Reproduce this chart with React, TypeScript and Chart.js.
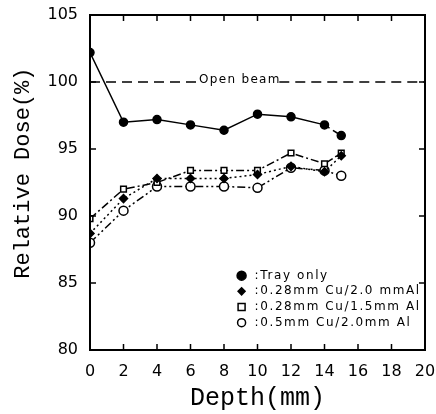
import React, { useEffect, useRef } from 'react';
import { Chart, registerables } from 'chart.js';

Chart.register(...registerables);

const depths = [0, 2, 4, 6, 8, 10, 12, 14, 15];
const trayOnly = [102.2, 97.0, 97.2, 96.8, 96.4, 97.6, 97.4, 96.8, 96.0];
const cu028Al20 = [88.7, 91.3, 92.8, 92.8, 92.8, 93.1, 93.7, 93.3, 94.5];
const cu028Al15 = [89.8, 92.0, 92.5, 93.4, 93.4, 93.4, 94.7, 93.9, 94.7];
const cu05Al20 = [88.0, 90.4, 92.2, 92.2, 92.2, 92.1, 93.6, 93.4, 93.0];
const seriesLabels = [':Tray only', ':0.28mm Cu/2.0 mmAl', ':0.28mm Cu/1.5mm Al', ':0.5mm Cu/2.0mm Al'];
const xTickValues = [0, 2, 4, 6, 8, 10, 12, 14, 16, 18, 20];
const yTickValues = [80, 85, 90, 95, 100, 105];
const openBeamLevel = 100;
const openBeamLabel = 'Open beam';
const openBeamGap = [6.6, 11.3];
const xTitle = 'Depth(mm)';
const yTitle = 'Relative Dose(%)';
const yTitleCenterValue = 93.2;

const toPts = (ys: number[]) => depths.map((x, i) => ({ x, y: ys[i] }));

function drawMarker(ctx: CanvasRenderingContext2D, style: string, x: number, y: number, r: number, filled: boolean) {
  ctx.save();
  ctx.beginPath();
  if (style === 'circle') ctx.arc(x, y, r, 0, Math.PI * 2);
  else if (style === 'rect') ctx.rect(x - r, y - r, 2 * r, 2 * r);
  else if (style === 'rectRot') {
    ctx.moveTo(x, y - r); ctx.lineTo(x + r, y); ctx.lineTo(x, y + r); ctx.lineTo(x - r, y); ctx.closePath();
  }
  ctx.fillStyle = filled ? '#000' : '#fff';
  ctx.fill();
  ctx.lineWidth = 1.5;
  ctx.strokeStyle = '#000';
  ctx.stroke();
  ctx.restore();
}

const markerDefs = [
  { style: 'circle', r: 4.5, filled: true },
  { style: 'rectRot', r: 3.5, filled: true },
  { style: 'rect', r: 3.5, filled: false },
  { style: 'circle', r: 4, filled: false },
];

const decorPlugin = {
  id: 'decor',
  afterDraw(chart: any) {
    const { ctx, chartArea: a, scales } = chart;
    const xs = scales.x, ys = scales.y;
    ctx.save();
    ctx.strokeStyle = '#000';
    ctx.lineWidth = 2;
    ctx.strokeRect(a.left, a.top, a.right - a.left, a.bottom - a.top);
    ctx.lineWidth = 1.5;
    ctx.beginPath();
    xTickValues.forEach((v) => {
      const px = xs.getPixelForValue(v);
      ctx.moveTo(px, a.bottom); ctx.lineTo(px, a.bottom - 6);
      ctx.moveTo(px, a.top); ctx.lineTo(px, a.top + 6);
    });
    yTickValues.forEach((v) => {
      const py = ys.getPixelForValue(v);
      ctx.moveTo(a.left, py); ctx.lineTo(a.left + 6, py);
      ctx.moveTo(a.right, py); ctx.lineTo(a.right - 6, py);
    });
    ctx.stroke();

    // Y axis title
    ctx.save();
    ctx.translate(23, ys.getPixelForValue(yTitleCenterValue));
    ctx.rotate(-Math.PI / 2);
    ctx.fillStyle = '#000';
    ctx.font = '22px "Liberation Mono"';
    ctx.textAlign = 'center';
    ctx.textBaseline = 'middle';
    ctx.fillText(yTitle, 0, 0);
    ctx.restore();

    // Open beam label
    const lx = (xs.getPixelForValue(openBeamGap[0]) + xs.getPixelForValue(openBeamGap[1])) / 2;
    const ly = ys.getPixelForValue(openBeamLevel);
    ctx.fillStyle = '#000';
    ctx.font = '12px "DejaVu Sans"';
    (ctx as any).letterSpacing = '1.3px';
    ctx.textAlign = 'center';
    ctx.textBaseline = 'alphabetic';
    ctx.fillText(openBeamLabel, lx, ly + 1);

    // legend
    ctx.font = '12px "DejaVu Sans"';
    (ctx as any).letterSpacing = '1.6px';
    ctx.textAlign = 'left';
    ctx.textBaseline = 'middle';
    const mx = xs.getPixelForValue(9.05);
    const ty0 = ys.getPixelForValue(85.55);
    seriesLabels.forEach((lab, i) => {
      const yy = ty0 + i * 15.7;
      const m = markerDefs[i];
      drawMarker(ctx, m.style, mx, yy, m.r, m.filled);
      ctx.fillStyle = '#000';
      ctx.fillText(lab, mx + 13, yy);
    });
    ctx.restore();
  },
};

export default function App() {
  const ref = useRef<HTMLCanvasElement | null>(null);
  useEffect(() => {
    if (!ref.current) return;
    const openBeam = [
      { x: 0, y: openBeamLevel },
      { x: openBeamGap[0], y: openBeamLevel },
      { x: (openBeamGap[0] + openBeamGap[1]) / 2, y: null },
      { x: openBeamGap[1], y: openBeamLevel },
      { x: 20, y: openBeamLevel },
    ];
    const chart = new Chart(ref.current, {
      type: 'scatter',
      data: {
        datasets: [
          {
            label: 'Open beam', data: openBeam as any, showLine: true, spanGaps: false,
            borderColor: '#000', borderWidth: 1.3, borderDash: [10, 6], pointRadius: 0,
          },
          {
            label: seriesLabels[0], data: toPts(trayOnly), showLine: true,
            borderColor: '#000', borderWidth: 1.5, pointStyle: 'circle', pointRadius: 4,
            pointBackgroundColor: '#000', pointBorderColor: '#000',
            segment: { borderDash: (c: any) => (c.p0DataIndex === depths.length - 2 ? [6, 4] : undefined) },
          },
          {
            label: seriesLabels[1], data: toPts(cu028Al20), showLine: true,
            borderColor: '#000', borderWidth: 1.5, borderDash: [2, 3], pointStyle: 'rectRot', pointRadius: 4,
            pointBackgroundColor: '#000', pointBorderColor: '#000',
          },
          {
            label: seriesLabels[2], data: toPts(cu028Al15), showLine: true,
            borderColor: '#000', borderWidth: 1.5, borderDash: [8, 3, 2, 3], pointStyle: 'rect', pointRadius: 4,
            pointBackgroundColor: '#fff', pointBorderColor: '#000', pointBorderWidth: 1.5,
          },
          {
            label: seriesLabels[3], data: toPts(cu05Al20), showLine: true,
            borderColor: '#000', borderWidth: 1.5, borderDash: [8, 3, 2, 3, 2, 3], pointStyle: 'circle', pointRadius: 4.5,
            pointBackgroundColor: '#fff', pointBorderColor: '#000', pointBorderWidth: 1.5,
          },
        ],
      },
      options: {
        animation: false,
        responsive: false,
        layout: { padding: { left: 0, right: 11, top: 15, bottom: 0 } },
        plugins: { legend: { display: false }, tooltip: { enabled: false } },
        scales: {
          x: {
            type: 'linear', min: 0, max: 20,
            grid: { display: false, drawTicks: false },
            border: { display: false },
            ticks: { stepSize: 2, color: '#000', font: { family: 'DejaVu Sans', size: 16 }, padding: 12, maxRotation: 0 },
            title: { display: true, text: xTitle, color: '#000', font: { family: 'Liberation Mono', size: 25 }, padding: { top: 0, bottom: 1 } },
            afterFit: (s: any) => { s.height = 64; s.paddingLeft = 0; s.paddingRight = 0; },
          },
          y: {
            type: 'linear', min: 80, max: 105,
            grid: { display: false, drawTicks: false },
            border: { display: false },
            ticks: { stepSize: 5, color: '#000', font: { family: 'DejaVu Sans', size: 16 }, padding: 12 },
            title: { display: false, text: yTitle },
            afterFit: (s: any) => { s.width = 90; s.paddingTop = 0; s.paddingBottom = 0; },
          },
        },
      },
      plugins: [decorPlugin],
    });
    return () => chart.destroy();
  }, []);
  return (
    <div style={{ position: 'absolute', left: 0, top: 0, width: 436, height: 414, background: '#fff' }}>
      <canvas ref={ref} width={436} height={414} />
    </div>
  );
}
